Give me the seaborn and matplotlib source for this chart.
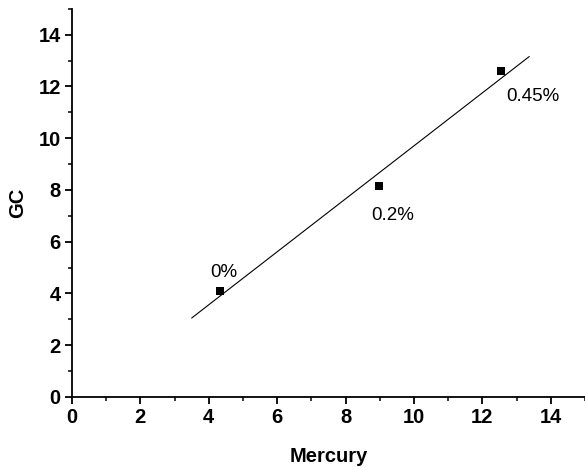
import numpy as np
import pandas as pd
import seaborn as sns
import matplotlib.pyplot as plt
from matplotlib.ticker import MultipleLocator

sns.set_style("ticks")
plt.rcParams['font.family'] = ['Liberation Sans', 'DejaVu Sans']
plt.rcParams['text.color'] = 'black'
plt.rcParams['axes.labelcolor'] = 'black'
plt.rcParams['xtick.color'] = 'black'
plt.rcParams['ytick.color'] = 'black'
plt.rcParams['axes.edgecolor'] = 'black'

# Data
mercury = [4.33, 8.97, 12.54]
gc = [4.11, 8.17, 12.58]
labels = ["0%", "0.2%", "0.45%"]
fit_range = [3.5, 13.37]

df = pd.DataFrame({"Mercury": mercury, "GC": gc, "label": labels})

# Linear fit through the points
slope, intercept = np.polyfit(mercury, gc, 1)
fit_x = np.array(fit_range)
fit_df = pd.DataFrame({"Mercury": fit_x, "GC": slope * fit_x + intercept})

fig = plt.figure(figsize=(5.85, 4.67), dpi=100)
ax = fig.add_axes([0.123, 0.15, 0.877, 0.831])

sns.lineplot(data=fit_df, x="Mercury", y="GC", color="black", linewidth=0.8, ax=ax)
sns.scatterplot(data=df, x="Mercury", y="GC", marker="s", s=34, color="black",
                edgecolor="black", linewidth=0, ax=ax, zorder=3)

# label offsets in pixels (left edge, baseline)
offsets = [(-10, 14), (-8, -34), (5, -30)]
for (x, y, lab), off in zip(zip(mercury, gc, labels), offsets):
    ax.annotate(lab, (x, y), xytext=off, textcoords="offset pixels",
                ha="left", va="baseline", fontsize=13.5)

ax.set_xlim(0, 15)
ax.set_ylim(0, 15)
ax.xaxis.set_minor_locator(MultipleLocator(1))
ax.yaxis.set_minor_locator(MultipleLocator(1))
ax.set_xticks(range(0, 15, 2))
ax.set_yticks(range(0, 15, 2))

ax.tick_params(which="major", length=5, width=1.3, direction="out", labelsize=14.5, pad=3)
ax.tick_params(which="minor", length=3, width=1.1, direction="out")
for t in ax.get_xticklabels() + ax.get_yticklabels():
    t.set_fontweight("bold")

ax.set_xlabel("Mercury", fontsize=14.5, fontweight="bold", labelpad=14)
ax.set_ylabel("GC", fontsize=14.5, fontweight="bold", labelpad=8)

sns.despine(ax=ax)
for side in ["left", "bottom"]:
    ax.spines[side].set_linewidth(1.3)

fig.savefig("out.png", dpi=100)
